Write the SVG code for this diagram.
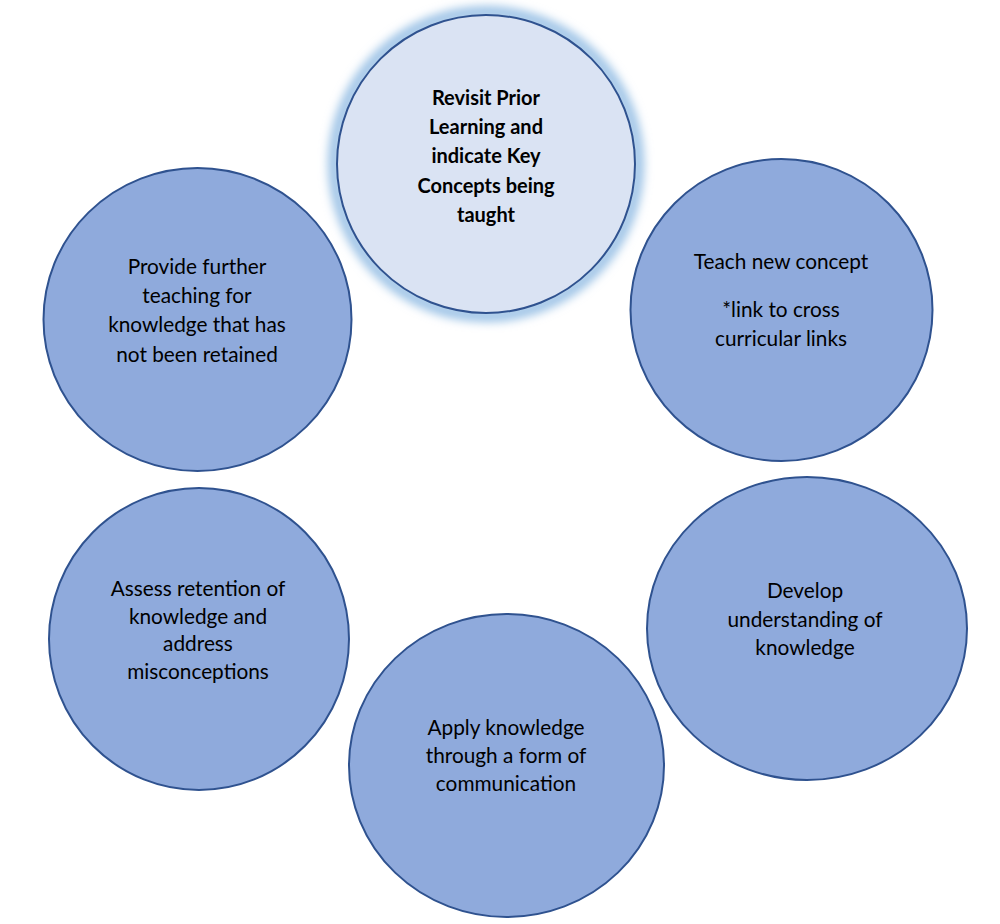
<svg xmlns="http://www.w3.org/2000/svg" width="1000" height="924" viewBox="0 0 1000 924">
  <defs>
    <filter id="glow" x="-20%" y="-20%" width="140%" height="140%">
      <feGaussianBlur stdDeviation="5"/>
    </filter>
  </defs>
  <style>
    .node { fill: #8faadc; stroke: #2f528f; stroke-width: 2; }
    .hub { fill: #dae3f3; stroke: #2f528f; stroke-width: 2; }
    .lbl { font-family: Lato, "Open Sans", "Liberation Sans", sans-serif; font-size: 20.8px; fill: #000; text-anchor: middle; }
    .bold { font-weight: bold; font-size: 20px; }
  </style>
  <rect width="1000" height="924" fill="#ffffff"/>
  <g id="connectors"></g>
  <g id="node-revisit">
    <circle cx="486" cy="164" r="152" fill="none" stroke="#9dc3e6" stroke-width="12" filter="url(#glow)"/>
    <circle class="hub" cx="486" cy="164" r="149"/>
    <text class="lbl bold" x="486" y="105">Revisit Prior</text>
    <text class="lbl bold" x="486" y="134">Learning and</text>
    <text class="lbl bold" x="486" y="163">indicate Key</text>
    <text class="lbl bold" x="486" y="193">Concepts being</text>
    <text class="lbl bold" x="486" y="222">taught</text>
  </g>
  <g id="node-teach">
    <ellipse class="node" cx="781.5" cy="310" rx="151" ry="151"/>
    <text class="lbl" x="781" y="269">Teach new concept</text>
    <text class="lbl" x="781" y="317">*link to cross</text>
    <text class="lbl" x="781" y="346">curricular links</text>
  </g>
  <g id="node-further">
    <ellipse class="node" cx="197.5" cy="319.5" rx="154" ry="151.5"/>
    <text class="lbl" x="197" y="274">Provide further</text>
    <text class="lbl" x="197" y="303">teaching for</text>
    <text class="lbl" x="197" y="332">knowledge that has</text>
    <text class="lbl" x="197" y="362">not been retained</text>
  </g>
  <g id="node-develop">
    <ellipse class="node" cx="807" cy="628.5" rx="160" ry="151.5"/>
    <text class="lbl" x="805" y="598">Develop</text>
    <text class="lbl" x="805" y="627">understanding of</text>
    <text class="lbl" x="805" y="655">knowledge</text>
  </g>
  <g id="node-apply">
    <ellipse class="node" cx="506.5" cy="765.5" rx="157.5" ry="151.5"/>
    <text class="lbl" x="506" y="735">Apply knowledge</text>
    <text class="lbl" x="506" y="763">through a form of</text>
    <text class="lbl" x="506" y="791">communication</text>
  </g>
  <g id="node-assess">
    <ellipse class="node" cx="199" cy="639" rx="150" ry="151"/>
    <text class="lbl" x="198" y="596">Assess retention of</text>
    <text class="lbl" x="198" y="624">knowledge and</text>
    <text class="lbl" x="198" y="651">address</text>
    <text class="lbl" x="198" y="679">misconceptions</text>
  </g>
</svg>
